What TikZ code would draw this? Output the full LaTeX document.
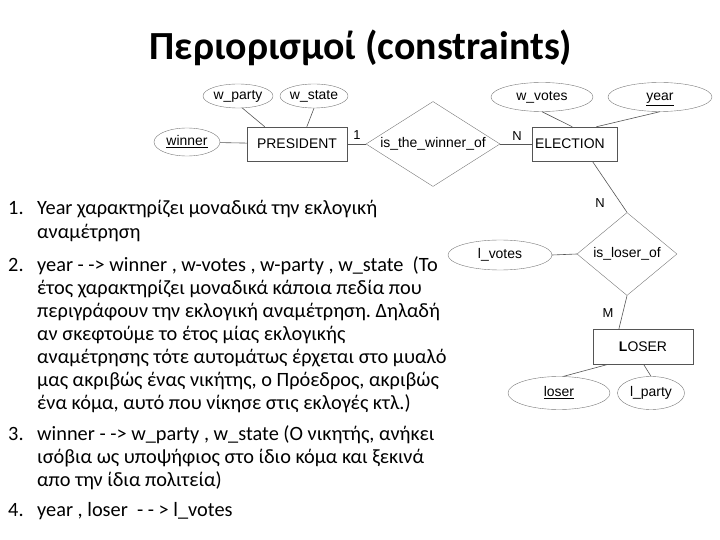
\documentclass[tikz,border=0pt]{standalone}
\usepackage{fontspec}
\setmainfont{Carlito}
\newfontfamily\erfont{Liberation Sans}
\usetikzlibrary{positioning,shapes.geometric}

\begin{document}
\begin{tikzpicture}[x=1bp,y=1bp]
       \definecolor{linegray}{HTML}{555555}
       \definecolor{ovalgray}{HTML}{777777}

       \newcommand{\listfont}[0]{\fontsize{20.4}{23.1}\selectfont\frenchspacing}
       \newcommand{\erlabel}[0]{\erfont\fontsize{14}{16}\selectfont}
       \newcommand{\listnum}[2]{\makebox[29bp][l]{#1}\parbox[t]{450bp}{\raggedright #2}}

       \tikzstyle{entity}    = [rectangle, draw = linegray, font = \erlabel, minimum width = 100bp, minimum height = 34bp, inner sep = 2bp]
       \tikzstyle{attrib}    = [ellipse, draw = ovalgray, font = \erlabel, inner sep = 0pt, text height = 10bp, text depth = 3bp]
       \tikzstyle{relation}  = [diamond, draw = ovalgray, font = \erlabel, inner sep = 0pt]
       \tikzstyle{card}      = [font = \erfont\fontsize{13}{15}\selectfont, inner sep = 0pt]
       \tikzstyle{connector} = [draw = linegray, line width = 0.6bp]
       \tikzstyle{listitem}  = [anchor = base west, font = \listfont, inner sep = 0pt]

       \useasboundingbox (0,0) rectangle (720,-540);

       \node [font = \fontsize{40}{44}\selectfont\bfseries, anchor = base] (title) at (361,-60) {Περιορισμοί (constraints)};

       \node [entity] (president) at (297,-144) {PRESIDENT};
       \node [attrib, minimum width = 66bp, minimum height = 28bp] (winner) at (187,-142) {\underline{winner}};
       \node [attrib, minimum width = 70bp, minimum height = 24bp] (wparty) at (238,-96) {w\_party};
       \node [attrib, minimum width = 68bp, minimum height = 24bp] (wstate) at (314,-96) {w\_state};
       \node [relation, minimum width = 134bp, minimum height = 85bp, aspect = 1.56] (winnerof) at (433,-144) {is\_the\_winner\_of};
       \node [entity, minimum width = 85bp, text width = 80bp, align = left] (election) at (575,-144) {ELECTION};
       \node [attrib, minimum width = 102bp, minimum height = 29bp] (wvotes) at (542,-97) {w\_votes};
       \node [attrib, minimum width = 104bp, minimum height = 29bp] (year) at (660,-97) {\underline{year}};

       \node [relation, minimum width = 100bp, minimum height = 83bp, aspect = 1.2] (loserof) at (627,-254) {is\_loser\_of};
       \node [attrib, minimum width = 104bp, minimum height = 30bp] (lvotes) at (500,-255) {l\_votes};
       \node [entity, minimum height = 35bp] (loser) at (643,-347) {\textbf{L}OSER};
       \node [attrib, minimum width = 102bp, minimum height = 33bp] (loserkey) at (559,-393) {\underline{loser}};
       \node [attrib, minimum width = 67bp, minimum height = 33bp] (lparty) at (651,-393) {l\_party};

       \node [card] (cardone) at (357,-135) {1};
       \node [card] (cardn)   at (517,-136) {N};
       \node [card] (cardnl)  at (600,-203) {N};
       \node [card] (cardm)   at (608,-313) {M};

       \draw [connector] (winner) -- (president);
       \draw [connector] (wparty.-70) -- ([xshift=18bp]president.north west);
       \draw [connector] (wstate.south) -- ([xshift=60bp]president.north west);
       \draw [connector] (president.east) -- (winnerof.west);
       \draw [connector] (winnerof.east) -- (election.west);
       \draw [connector] (wvotes.south) -- ([xshift=40bp]election.north west);
       \draw [connector] (year.south) -- ([xshift=64bp]election.north west);
       \draw [connector] ([xshift=60bp]election.south west) -- (loserof.north);
       \draw [connector] (lvotes.east) -- (loserof.west);
       \draw [connector] (loserof.south) -- ([xshift=26bp]loser.north west);
       \draw [connector] (loserkey.75) -- ([xshift=14bp]loser.south west);
       \draw [connector] (lparty.north) -- ([xshift=51bp]loser.south west);

       \node [listitem] (itemone) at (8,-215) {\listnum{1.}{Year χαρακτηρίζει μοναδικά την εκλογική\\
         αναμέτρηση}};
       \node [listitem] (itemtwo) at (8,-271.7) {\listnum{2.}{year - -> winner , w-votes , w-party , w\_state\ \ (Το\\
         έτος χαρακτηρίζει μοναδικά κάποια πεδία που\\
         περιγράφουν την εκλογική αναμέτρηση. Δηλαδή\\
         αν σκεφτούμε το έτος μίας εκλογικής\\
         αναμέτρησης τότε αυτομάτως έρχεται στο μυαλό\\
         μας ακριβώς ένας νικήτης, ο Πρόεδρος, ακριβώς\\
         ένα κόμα, αυτό που νίκησε στις εκλογές κτλ.)}};
       \node [listitem] (itemthree) at (8,-440) {\listnum{3.}{winner - -> w\_party , w\_state (Ο νικητής, ανήκει\\
         ισόβια ως υποψήφιος στο ίδιο κόμα και ξεκινά\\
         απο την ίδια πολιτεία)}};
       \node [listitem] (itemfour) at (8,-516.7) {\listnum{4.}{year , loser\ \ - - > l\_votes}};
\end{tikzpicture}
\end{document}
